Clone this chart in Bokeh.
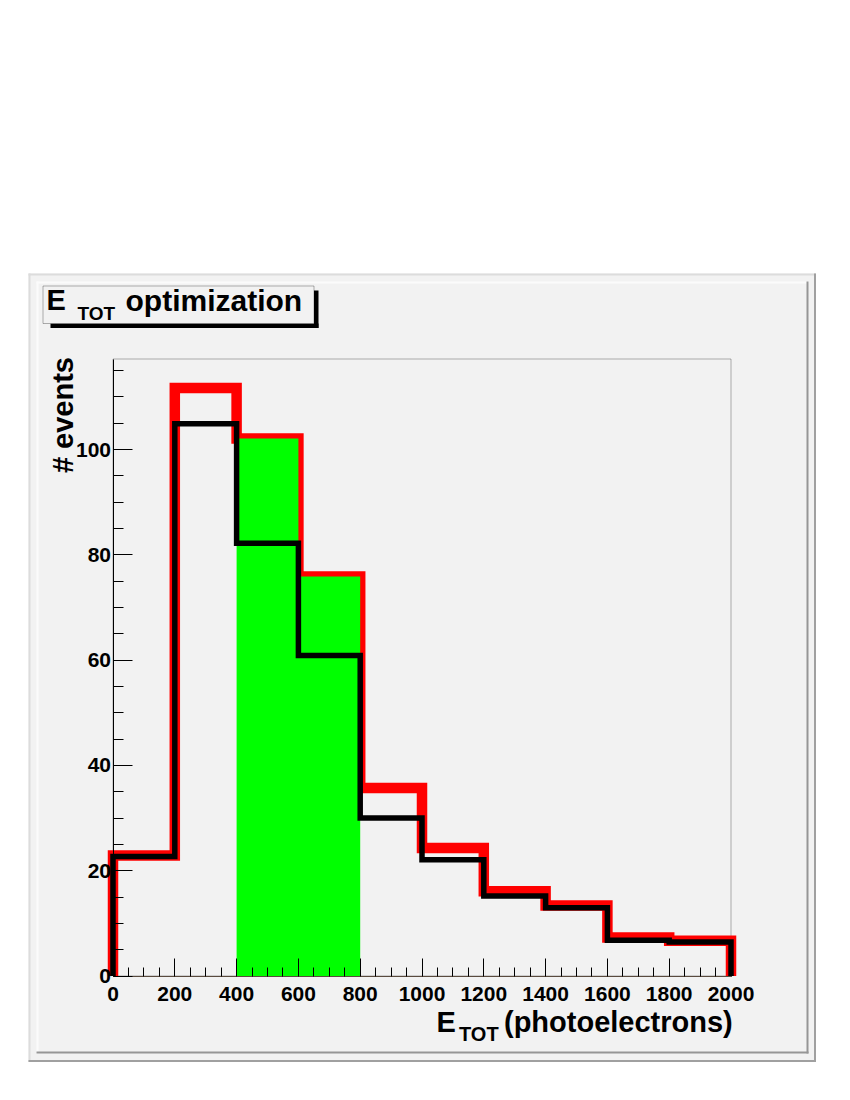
from bokeh.plotting import figure
from bokeh.models import Range1d, FixedTicker, BoxAnnotation, Label, LinearAxis
from bokeh.embed import file_html
from bokeh.resources import INLINE

# ---------------- data ----------------
bin_edges = [0, 200, 400, 600, 800, 1000, 1200, 1400, 1600, 1800, 2000]
red_counts = [22.9, 111.7, 102.1, 75.9, 35.7, 24.3, 16.1, 13.4, 7.3, 6.7]
black_counts = [22.7, 104.9, 82.2, 60.9, 30.0, 22.1, 15.2, 12.95, 6.8, 6.45]
green_bins = [2, 3]          # highlighted bins (400-800), filled up to red counts
x_tick_values = [0, 200, 400, 600, 800, 1000, 1200, 1400, 1600, 1800, 2000]
y_tick_values = [0, 20, 40, 60, 80, 100]
title_parts = ["E", "TOT", "optimization"]
x_title_parts = ["E", "TOT", "(photoelectrons)"]
y_title = "# events"

X_MAX = 2000
Y_MAX = 117.2

# ---------------- layout (pixel positions on the page) ----------------
W, H = 834, 1070
FR_L, FR_R, FR_T, FR_B = 112.5, 730.5, 358.5, 975.5   # histogram frame
FONT = "Liberation Sans"
BG = "#f2f2f2"
K_BASE = 0.3465   # baseline correction (fraction of font size)


def dx(px):
    return (px - FR_L) / (FR_R - FR_L) * X_MAX


def dy(py):
    return (FR_B - py) / (FR_B - FR_T) * Y_MAX


p = figure(width=W, height=H, output_backend="svg", toolbar_location=None,
           x_range=Range1d(dx(0), dx(W)), y_range=Range1d(dy(H), dy(0)),
           x_axis_location=None, y_axis_location=None,
           min_border_left=0, min_border_right=0, min_border_top=0, min_border_bottom=0)
p.border_fill_color = "white"
p.background_fill_color = "white"
p.outline_line_color = None
p.grid.visible = False


def box(x0, x1, y0, y1, fill, level="underlay", line=None, lw=1):
    b = BoxAnnotation(left=dx(x0), right=dx(x1), top=dy(y0), bottom=dy(y1),
                      fill_color=fill, fill_alpha=1.0 if fill else 0.0,
                      line_color=line, line_width=lw, level=level)
    p.add_layout(b)
    return b


# canvas pad (ROOT style bevelled borders)
box(28, 815.5, 273, 1061.5, BG)
box(28, 815.5, 273, 275, "#dcdcdc")
box(28, 30, 273, 1061.5, "#dcdcdc")
box(813.5, 815.5, 273, 1061.5, "#a0a0a0")
box(28, 815.5, 1059.5, 1061.5, "#a0a0a0")
box(36, 808, 281, 1053, BG)
box(36, 808, 281, 283, "#fbfbfb")
box(36, 38, 281, 1053, "#fbfbfb")
box(806, 808, 281, 1053, "#969696")
box(36, 808, 1051, 1053, "#969696")

# histogram frame outline
p.add_layout(BoxAnnotation(left=0, right=X_MAX, bottom=0, top=Y_MAX, fill_alpha=0.0,
                           line_color="black", line_width=1, level="underlay"))

# title box with shadow
box(313.5, 318, 290, 327.5, "black", level="annotation")
box(50, 318, 323, 327.5, "black", level="annotation")
box(42.5, 313.5, 285.5, 323, BG, level="annotation", line="black", lw=1)


def outline(edges, counts):
    xs, ys = [edges[0]], [0]
    for i, c in enumerate(counts):
        xs += [edges[i], edges[i + 1]]
        ys += [c, c]
    xs.append(edges[-1])
    ys.append(0)
    return xs, ys


rx, ry = outline(bin_edges, red_counts)
p.line(rx, ry, line_color="#ff0000", line_width=10.5, line_join="miter", line_cap="butt")

g_x = [bin_edges[i] for i in green_bins] + [bin_edges[green_bins[-1] + 1]]
g_y = [red_counts[i] for i in green_bins] + [red_counts[green_bins[-1]]]
p.varea_step(x=g_x, y1=[0] * len(g_x), y2=g_y, step_mode="after", fill_color="#00ff00")

bx, by = outline(bin_edges, black_counts)
p.line(bx, by, line_color="black", line_width=5.5, line_join="miter", line_cap="butt")

# axes drawn at the frame edges (fixed locations)
xa = LinearAxis(fixed_location=0, bounds=(0, X_MAX))
ya = LinearAxis(fixed_location=0, bounds=(0, Y_MAX))
xa.ticker = FixedTicker(ticks=x_tick_values,
                        minor_ticks=[v for v in range(0, X_MAX + 1, 50) if v not in x_tick_values])
ya.ticker = FixedTicker(ticks=y_tick_values,
                        minor_ticks=[v for v in range(0, 120, 5) if v not in y_tick_values])
for ax in (xa, ya):
    ax.major_tick_out = 0
    ax.minor_tick_out = 0
    ax.major_tick_line_color = "black"
    ax.minor_tick_line_color = "black"
    ax.major_label_text_font = FONT
    ax.major_label_text_font_style = "bold"
    ax.major_label_text_font_size = "21px"
    ax.major_label_text_color = "black"
xa.major_tick_in = 18
xa.minor_tick_in = 9
ya.major_tick_in = 19
ya.minor_tick_in = 10
xa.axis_line_color = "#5a4b3e"
ya.axis_line_color = "black"
xa.major_label_standoff = 11
ya.major_label_standoff = 2
p.add_layout(xa, "below")
p.add_layout(ya, "left")


def label(text, px, py, size, angle=0.0, align="left"):
    # (px, py): wanted position of the alphabetic baseline start/end on the page
    shift = K_BASE * size
    if angle:
        px -= shift
    else:
        py -= shift
    p.add_layout(Label(x=dx(px), y=dy(py), text=text, text_font=FONT,
                       text_font_style="bold", text_font_size=f"{size}px",
                       text_color="black", text_align=align,
                       text_baseline="alphabetic", angle=angle))


# title
label(title_parts[0], 46, 310, 29)
label(title_parts[1], 77, 320, 19)
label(title_parts[2], 125, 310, 30)

# x-axis title
label(x_title_parts[0], 436, 1031.7, 29)
label(x_title_parts[1], 458.5, 1040, 20)
label(x_title_parts[2], 503.5, 1031.7, 29)

# y-axis title
label(y_title, 73, 356.5, 29, angle=1.5707963, align="right")

open("out.html", "w").write(file_html(p, INLINE))
